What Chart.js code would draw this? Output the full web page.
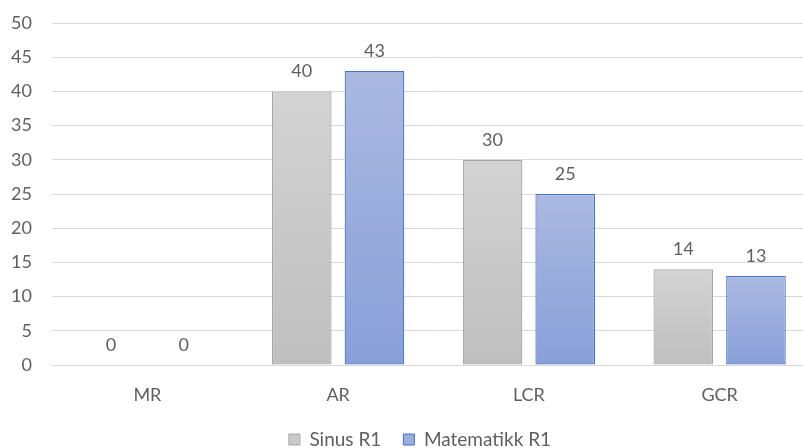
<!DOCTYPE html>
<html>
<head>
<meta charset="utf-8">
<script src="https://cdn.jsdelivr.net/npm/chart.js@4/dist/chart.umd.min.js"></script>
<style>
  html, body { margin: 0; padding: 0; background: #ffffff; overflow: hidden; }
  #wrap { width: 840px; height: 448px; position: relative; }
</style>
</head>
<body>
<div id="wrap"><canvas id="chart"></canvas></div>
<script>
// Categories and series
const categories = ['MR', 'AR', 'LCR', 'GCR'];
const sinusR1 = [0, 40, 30, 14];
const matematikkR1 = [0, 43, 25, 13];
const yMin = 0, yMax = 50, yStep = 5;

const FONT = 'Lato, "Noto Sans", sans-serif';
const TEXT = '#5f5f5f';

// Vertical gradient spanning each bar from its top to the zero line
function barGradient(topColor, bottomColor, solid) {
  return (ctx) => {
    const chart = ctx.chart;
    if (!chart.chartArea || ctx.raw == null) return solid;
    const y = chart.scales.y;
    const top = y.getPixelForValue(ctx.raw);
    const bottom = y.getPixelForValue(0);
    if (bottom - top < 1) return solid;
    const g = chart.ctx.createLinearGradient(0, top, 0, bottom);
    g.addColorStop(0, topColor);
    g.addColorStop(1, bottomColor);
    return g;
  };
}

// Writes each bar's value just above it
const valueLabels = {
  id: 'valueLabels',
  afterDatasetsDraw(chart) {
    const c = chart.ctx;
    c.save();
    c.font = '18px ' + FONT;
    c.fillStyle = TEXT;
    c.textAlign = 'center';
    c.textBaseline = 'bottom';
    chart.data.datasets.forEach((ds, i) => {
      chart.getDatasetMeta(i).data.forEach((bar, j) => {
        c.fillText(String(ds.data[j]), bar.x, bar.y - 11);
      });
    });
    c.restore();
  }
};

// Lets the y tick labels use the space left of the narrow y axis box
const widenYLabelArea = {
  id: 'widenYLabelArea',
  afterLayout(chart) {
    const y = chart.scales.y;
    y.left = 0;
    y.width = y.right;
  }
};

new Chart(document.getElementById('chart'), {
  type: 'bar',
  data: {
    labels: categories,
    datasets: [
      {
        label: 'Sinus R1',
        data: sinusR1,
        backgroundColor: barGradient('#d3d3d3', '#bfbfbf', '#c9c9c9'),
        borderColor: '#a6a6a6',
        borderWidth: 1.2,
        borderSkipped: false,
        categoryPercentage: 0.762,
        barPercentage: 0.82
      },
      {
        label: 'Matematikk R1',
        data: matematikkR1,
        backgroundColor: barGradient('#abb9e1', '#889fd8', '#9aadde'),
        borderColor: '#4472c4',
        borderWidth: 1.2,
        borderSkipped: false,
        categoryPercentage: 0.762,
        barPercentage: 0.82
      }
    ]
  },
  options: {
    responsive: true,
    maintainAspectRatio: false,
    animation: false,
    layout: { padding: { left: 25, right: 25, top: 23, bottom: -11 } },
    plugins: {
      tooltip: { enabled: false },
      legend: {
        position: 'bottom',
        labels: {
          color: TEXT,
          font: { family: FONT, size: 19 },
          boxWidth: 11,
          boxHeight: 11,
          padding: 22,
          generateLabels(chart) {
            const fills = ['#c9c9c9', '#9aadde'];
            return chart.data.datasets.map((ds, i) => ({
              text: ds.label,
              fillStyle: fills[i],
              strokeStyle: ds.borderColor,
              lineWidth: 1,
              datasetIndex: i,
              fontColor: TEXT
            }));
          }
        }
      }
    },
    scales: {
      x: {
        grid: { display: false, drawTicks: false },
        border: { display: true, color: '#d9d9d9', width: 1 },
        ticks: { color: TEXT, font: { family: FONT, size: 18 }, padding: 19 },
        afterFit(scale) { scale.height = 43; }
      },
      y: {
        min: yMin,
        max: yMax,
        grid: { color: '#d9d9d9', lineWidth: 1, drawTicks: true, tickLength: 20, tickColor: 'rgba(0,0,0,0)' },
        border: { display: false },
        ticks: { stepSize: yStep, color: TEXT, font: { family: FONT, size: 18 }, padding: 0 },
        afterFit(scale) { scale.width = 27; }
      }
    }
  },
  plugins: [valueLabels, widenYLabelArea]
});
</script>
</body>
</html>
